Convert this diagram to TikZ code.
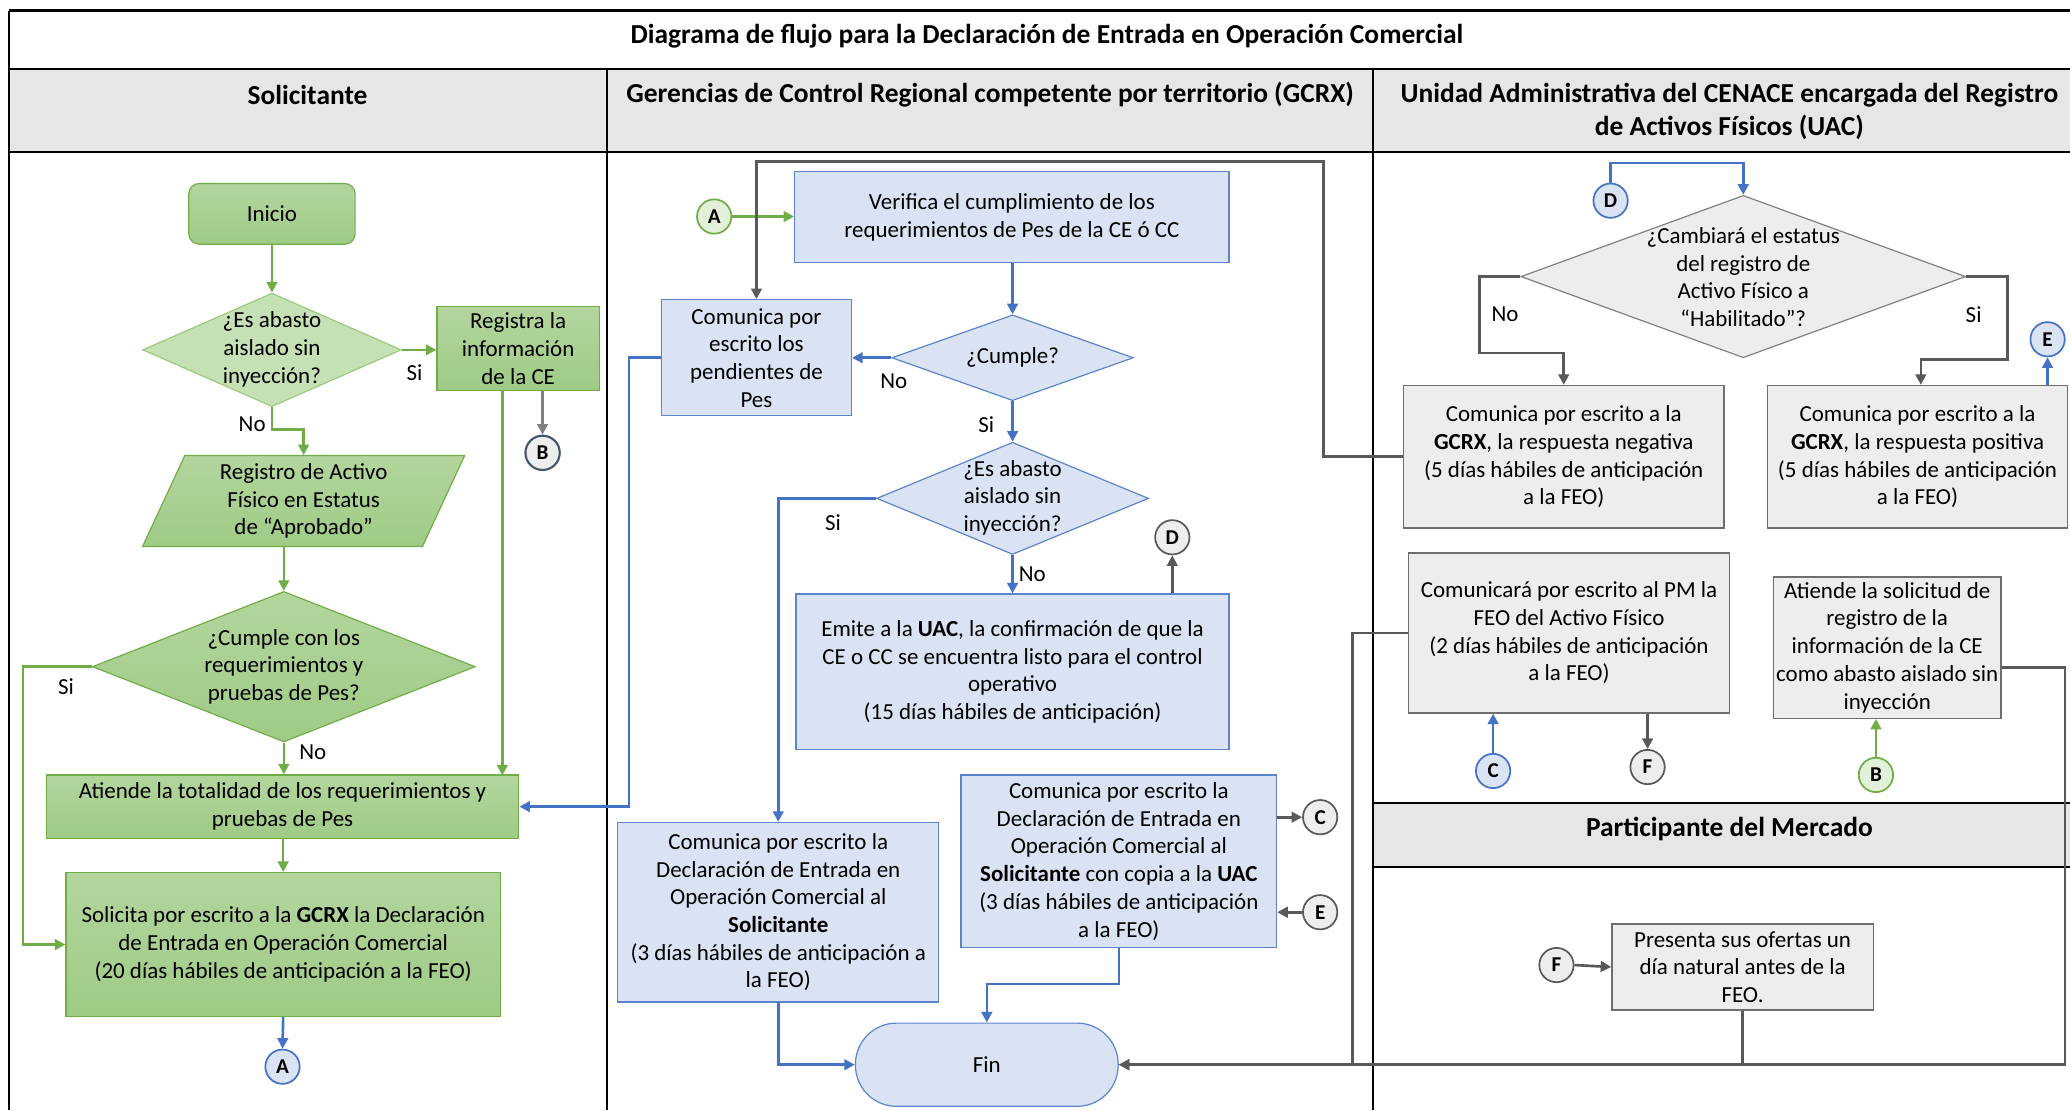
\documentclass[tikz,border=0pt]{standalone}
\usepackage{fontspec}
\setmainfont{Carlito}
\usetikzlibrary{arrows.meta,shapes.geometric,calc}
\definecolor{grnline}{HTML}{70AD47}
\definecolor{grntop}{HTML}{B3D59D}
\definecolor{grnbot}{HTML}{9FCB86}
\definecolor{grnlight}{HTML}{C5E0B4}
\definecolor{grndia}{HTML}{9CCA7E}
\definecolor{grncirc}{HTML}{E2F0D9}
\definecolor{bluline}{HTML}{4472C4}
\definecolor{blubord}{HTML}{5B84CC}
\definecolor{blufill}{HTML}{DAE3F3}
\definecolor{gryfill}{HTML}{EDEDED}
\definecolor{grybord}{HTML}{6E6E6E}
\definecolor{gryline}{HTML}{595959}
\definecolor{grylight}{HTML}{808080}
\definecolor{hdrfill}{HTML}{E6E6E6}
\definecolor{slate}{HTML}{44546A}
\tikzset{
  base/.style={font=\fontsize{17.4}{21}\selectfont, align=center, inner sep=2pt, text=black},
  gbox/.style={base, draw=grnline, line width=0.9pt, top color=grntop, bottom color=grnbot},
  gstart/.style={gbox, rounded corners=8pt},
  gdiamond/.style={diamond, draw=grndia, line width=0.9pt, fill=grnlight, inner sep=0pt},
  gdiamondb/.style={diamond, draw=grnline, line width=0.9pt, top color=grntop, bottom color=grnbot, inner sep=0pt},
  bdiamond/.style={diamond, draw=blubord, line width=0.9pt, fill=blufill, inner sep=0pt},
  ydiamond/.style={diamond, draw=grylight, line width=0.9pt, fill=gryfill, inner sep=0pt},
  bbox/.style={base, draw=blubord, line width=0.9pt, fill=blufill},
  ybox/.style={base, draw=grybord, line width=1pt, fill=gryfill},
  txt/.style={base, inner sep=0pt},
  lbl/.style={font=\fontsize{17.4}{20}\selectfont, inner sep=0pt},
  hdr/.style={font=\fontsize{20.8}{25}\selectfont\bfseries, align=center, inner sep=0pt},
  conn/.style={circle, minimum size=26pt, inner sep=0pt, line width=1.3pt, font=\fontsize{16}{18}\selectfont\bfseries},
  cgray/.style={conn, draw=gryline, fill=gryfill},
  cslate/.style={conn, draw=slate, fill=gryfill, line width=1.6pt},
  cblue/.style={conn, draw=bluline, fill=blufill},
  cgreen/.style={conn, draw=grnline, fill=grncirc},
  tip/.style={-{Triangle[length=8pt,width=8pt]}},
  garr/.style={draw=grnline, line width=2pt, tip},
  barr/.style={draw=bluline, line width=2pt, tip},
  yarr/.style={draw=gryline, line width=2pt, tip},
  larr/.style={draw=grylight, line width=2pt, tip},
  lane/.style={draw=black, line width=1.3pt},
}
\begin{document}
\begin{tikzpicture}[x=1pt,y=-1pt]
\useasboundingbox (0,0) rectangle (1568,841);
% ---------- frame ----------
\fill[hdrfill] (7,52) rectangle (1568,115);
\fill[hdrfill] (1040,608) rectangle (1568,657);
\draw[lane, line width=2pt] (7,8) -- (1568,8);
\draw[lane] (7,8) -- (7,841);
\draw[lane, line width=1.6pt] (7,52) -- (1568,52);
\draw[lane, line width=1.6pt] (7,115) -- (1568,115);
\draw[lane] (460,52) -- (460,841);
\draw[lane] (1040,52) -- (1040,841);
\draw[lane] (1040,608) -- (1568,608);
\draw[lane] (1040,657) -- (1568,657);
\node[hdr] (title) at (793,27.5) {Diagrama de flujo para la Declaración de Entrada en Operación Comercial};
\node[hdr] (h1) at (233,72) {Solicitante};
\node[hdr] (h2) at (750,72) {Gerencias de Control Regional competente por territorio (GCRX)};
\node[hdr] (h3) at (1310,84.5) {Unidad Administrativa del CENACE encargada del Registro\\de Activos Físicos (UAC)};
\node[hdr] (h4) at (1310,628) {Participante del Mercado};

% ---------- Solicitante ----------
\node[gstart, minimum width=126pt, minimum height=46pt] (inicio) at (206,162) {Inicio};
\node[gdiamond, minimum width=196pt, minimum height=86pt] (d1) at (206,265) {};
\node[txt] (d1t) at (206,264.5) {¿Es abasto\\aislado sin\\inyección?};
\node[gbox, minimum width=123pt, minimum height=64pt] (reg) at (392.5,264) {Registra la\\información\\de la CE};
\node[cslate] (b1) at (411,343) {B};
\draw[draw=grnline, line width=0.9pt, top color=grntop, bottom color=grnbot] (140,345) -- (352,345) -- (320,414) -- (108,414) -- cycle;
\node[txt, minimum height=69pt] (par) at (230,379.5) {Registro de Activo\\Físico en Estatus\\de “Aprobado”};
\node[gdiamondb, minimum width=290pt, minimum height=114pt] (d2) at (215,505) {};
\node[txt] (d2t) at (215,505) {¿Cumple con los\\requerimientos y\\pruebas de Pes?};
\node[gbox, minimum width=358pt, minimum height=48pt] (ate) at (214,611) {Atiende la totalidad de los requerimientos y\\pruebas de Pes};
\node[gbox, minimum width=329pt, minimum height=109pt] (sol) at (214.5,715.5) {Solicita por escrito a la \textbf{GCRX} la Declaración\\de Entrada en Operación Comercial\\(20 días hábiles de anticipación a la FEO)};
\node[cblue] (a1) at (214,808) {A};

\draw[garr] (inicio) -- (d1);
\draw[garr] (d1.east) -- (reg.west |- d1.east);
\node[lbl] (l1) at (314,282) {Si};
\draw[garr] (d1.south) -- ++(0,17) -| (par.north);
\node[lbl] (l2) at (191,321) {No};
\draw[larr] (reg.south -| b1.north) -- (b1.north);
\draw[garr] ([xshift=-12pt]reg.south) -- ++(0,291);
\draw[garr] (d2.north |- par.south) -- (d2.north);
\draw[garr] (d2.south) -- (ate.north -| d2.south);
\node[lbl] (l3) at (237,570) {No};
\draw[garr] (d2.west) -- ++(-52,0) |- (sol.west);
\node[lbl] (l4) at (50,520) {Si};
\draw[garr] (ate.south -| sol.north) -- (sol.north);
\draw[barr] (sol.south) -- (a1.north);

% ---------- GCRX ----------
\node[cgreen] (a2) at (541,164) {A};
\node[bbox, minimum width=329pt, minimum height=69pt] (verif) at (766.5,164.5) {Verifica el cumplimiento de los\\requerimientos de Pes de la CE ó CC};
\node[bdiamond, minimum width=183pt, minimum height=65pt] (cumple) at (767,271) {};
\node[txt] (cumplet) at (767,271) {¿Cumple?};
\node[bbox, minimum width=144pt, minimum height=88pt] (pend) at (573,271) {Comunica por\\escrito los\\pendientes de\\Pes};
\node[bdiamond, minimum width=206pt, minimum height=85pt] (esab) at (767,377.5) {};
\node[txt] (esabt) at (767,377) {¿Es abasto\\aislado sin\\inyección?};
\node[cgray] (dg) at (888,407) {D};
\node[bbox, minimum width=328pt, minimum height=118pt] (emite) at (767,509) {Emite a la \textbf{UAC}, la confirmación de que la\\CE o CC se encuentra listo para el control\\operativo\\(15 días hábiles de anticipación)};
\node[bbox, minimum width=243pt, minimum height=136pt] (decl) at (589.5,691) {Comunica por escrito la\\Declaración de Entrada en\\Operación Comercial al\\\textbf{Solicitante}\\(3 días hábiles de anticipación a\\la FEO)};
\node[bbox, minimum width=239pt, minimum height=131pt] (copia) at (847.5,652.5) {Comunica por escrito la\\Declaración de Entrada en\\Operación Comercial al\\\textbf{Solicitante} con copia a la \textbf{UAC}\\(3 días hábiles de anticipación\\a la FEO)};
\node[cgray] (c1) at (1000,619) {C};
\node[cgray] (e1) at (1000,691) {E};
\node[base, draw=blubord, line width=0.9pt, fill=blufill, rounded corners=31pt, minimum width=199pt, minimum height=63pt] (fin) at (747.5,806.5) {Fin};

\draw[garr] (a2.east) -- (verif.west |- a2.east);
\draw[barr] (verif.south -| cumple.north) -- (cumple.north);
\draw[barr] (cumple.west) -- (pend.east);
\node[lbl] (l5) at (677,289) {No};
\draw[barr] (cumple.south) -- (esab.north);
\node[lbl] (l6) at (747,322) {Si};
\draw[barr] (esab.west) -| (decl.north);
\node[lbl] (l7) at (631,396) {Si};
\draw[barr] (esab.south) -- (emite.north);
\node[lbl] (l8) at (782,435) {No};
\draw[yarr] (emite.north -| dg.south) -- (dg.south);
\draw[barr] (pend.west) -- ++(-24,0) |- (ate.east);
\draw[barr] (decl.south) |- (fin.west);
\draw[yarr] (copia.east |- c1.west) -- (c1.west);
\draw[yarr] (e1.west) -- (copia.east |- e1.west);
\draw[barr] (copia.south) -- ++(0,27) -| (fin.north);

% ---------- UAC ----------
\node[cblue] (d2b) at (1220,152) {D};
\node[ydiamond, minimum width=337pt, minimum height=123pt] (camb) at (1320.5,209.5) {};
\node[txt] (cambt) at (1320.5,210) {¿Cambiará el estatus\\del registro de\\Activo Físico a\\“Habilitado”?};
\node[ybox, minimum width=243pt, minimum height=108pt] (neg) at (1184.5,346) {Comunica por escrito a la\\\textbf{GCRX}, la respuesta negativa\\(5 días hábiles de anticipación\\a la FEO)};
\node[ybox, minimum width=227pt, minimum height=108pt] (pos) at (1452.5,346) {Comunica por escrito a la\\\textbf{GCRX}, la respuesta positiva\\(5 días hábiles de anticipación\\a la FEO)};
\node[cblue] (e2) at (1551,257) {E};
\node[ybox, minimum width=243pt, minimum height=121pt] (pm) at (1188.5,479.5) {Comunicará por escrito al PM la\\FEO del Activo Físico\\(2 días hábiles de anticipación\\a la FEO)};
\node[cblue] (c2) at (1131,584) {C};
\node[cgray] (f1) at (1248,581) {F};
\node[ybox, minimum width=171pt, minimum height=107pt] (aten) at (1429.5,490.5) {Atiende la solicitud de\\registro de la\\información de la CE\\como abasto aislado sin\\inyección};
\node[cgreen] (b2) at (1421,587) {B};
\node[cgray] (f2) at (1179,731) {F};
\node[ybox, minimum width=198pt, minimum height=65pt] (pres) at (1320,732.5) {Presenta sus ofertas un\\día natural antes de la\\FEO.};

\draw[barr] (d2b.north) -- ++(0,-15) -| (camb.north);
\draw[yarr] (camb.west) -- ++(-31,0) -- ++(0,58) -| (neg.north);
\node[lbl] (l9) at (1140,238) {No};
\draw[yarr] (camb.east) -- ++(31,0) -- ++(0,63) -| ([xshift=2.5pt]pos.north);
\node[lbl] (l10) at (1495,238) {Si};
\draw[barr] (pos.north -| e2.south) -- (e2.south);
\draw[yarr] (neg.west) -- ++(-60,0) |- ([yshift=104pt]pend.north) -- (pend.north);
\draw[barr] (c2.north) -- (pm.south -| c2.north);
\draw[yarr] (pm.south -| f1.north) -- (f1.north);
\draw[garr] (b2.north) -- (aten.south -| b2.north);
\draw[yarr] (pm.west) -- ++(-42,0) |- (fin.east);
\draw[yarr] ([yshift=-15pt]aten.east) -- ++(48,0) |- (fin.east);
\draw[yarr] (f2.east) -- (pres.west);
\draw[draw=gryline, line width=2pt] (pres.south) -- (pres.south |- fin.east);
\end{tikzpicture}
\end{document}
